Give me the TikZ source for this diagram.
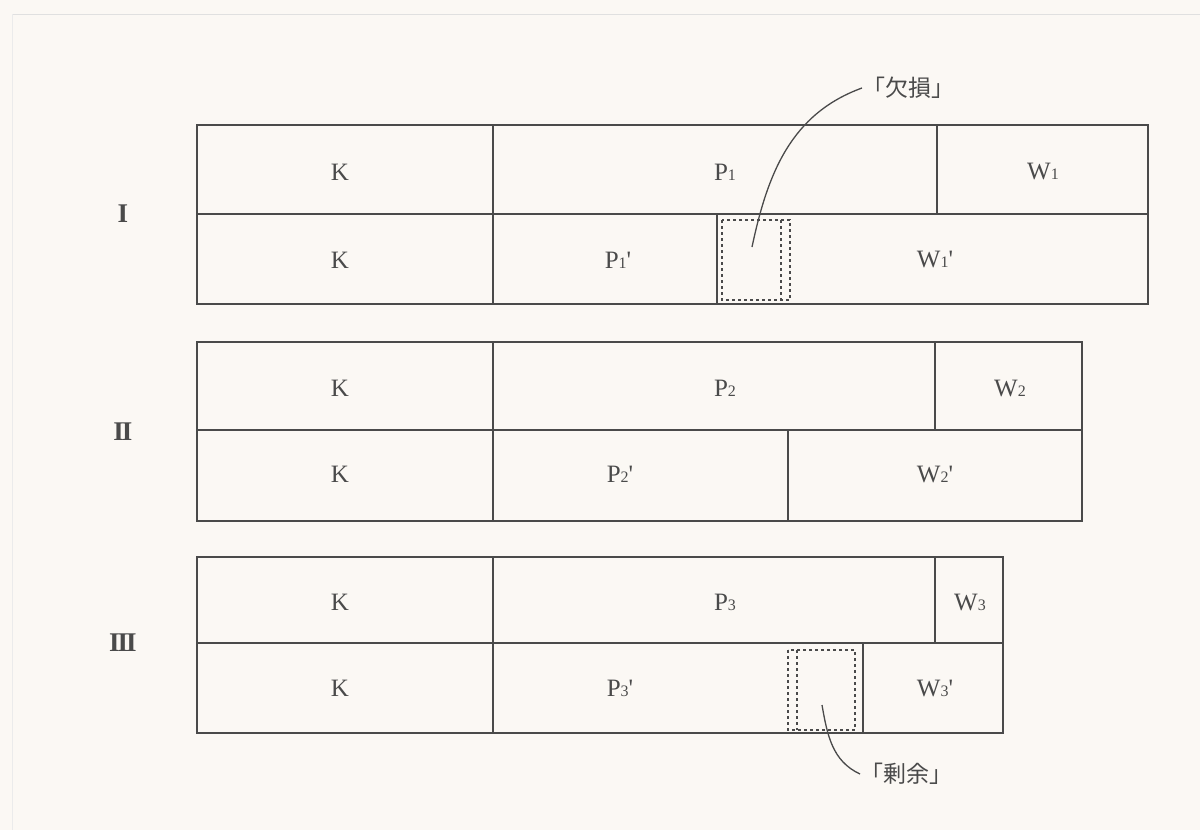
\documentclass[tikz,border=0pt]{standalone}
\usepackage{fontspec}
\setmainfont{Liberation Serif}
\newfontfamily\jpfont{Noto Sans CJK JP}
\definecolor{paper}{HTML}{FBF8F4}
\definecolor{ink}{HTML}{4A4A4A}
\begin{document}
\begin{tikzpicture}[x=1pt,y=-1pt,
  box/.style={draw=ink,line width=1.8pt},
  sep/.style={draw=ink,line width=1.8pt},
  lbl/.style={text=ink,font=\fontsize{25}{25}\selectfont,inner sep=0pt},
  roman/.style={text=ink,font=\fontsize{27}{27}\selectfont\bfseries,inner sep=0pt},
  jp/.style={text=ink,font=\fontsize{23}{23}\selectfont\jpfont,inner sep=0pt},
  dsh/.style={draw=ink,line width=1.5pt,dash pattern=on 3pt off 3pt},
  lead/.style={draw=ink,line width=1.3pt}]
\fill[paper] (0,0) rectangle (1200,830);
\useasboundingbox (0,0) rectangle (1200,830);
\draw[black!12,line width=1pt] (12,14) -- (1200,14);
\draw[black!8,line width=1pt] (12,14) -- (12,830);
\newcommand{\sub}[1]{{\fontsize{16}{16}\selectfont #1}}
\newcommand{\prm}{\textquotesingle}
% ---------- Group I ----------
\draw[box] (197,125) rectangle (1148,304);
\draw[sep] (197,214) -- (1148,214);
\draw[sep] (493,125) -- (493,304);
\draw[sep] (937,125) -- (937,214);
\draw[sep] (717,214) -- (717,304);
\draw[dsh] (722,220) rectangle (790,300);
\draw[dsh] (781,220) -- (781,300);
\coordinate (lossin) at (752,247);
\node[lbl] (k1a) at (340,172) {K};
\node[lbl] (p1) at (725,172) {P\sub{1}};
\node[lbl] (w1) at (1043,172) {W\sub{1}};
\node[lbl] (k1b) at (340,260) {K};
\node[lbl] (p1b) at (618,260) {P\sub{1}\prm};
\node[lbl] (w1b) at (935,260) {W\sub{1}\prm};
\node[roman] (r1) at (123,214) {I};
% ---------- Group II ----------
\draw[box] (197,342) rectangle (1082,521);
\draw[sep] (197,430) -- (1082,430);
\draw[sep] (493,342) -- (493,521);
\draw[sep] (935,342) -- (935,430);
\draw[sep] (788,430) -- (788,521);
\node[lbl] (k2a) at (340,388) {K};
\node[lbl] (p2) at (725,388) {P\sub{2}};
\node[lbl] (w2) at (1010,388) {W\sub{2}};
\node[lbl] (k2b) at (340,474) {K};
\node[lbl] (p2b) at (620,474) {P\sub{2}\prm};
\node[lbl] (w2b) at (935,474) {W\sub{2}\prm};
\node[roman] (r2) at (123,432) {I\kern-2pt I};
% ---------- Group III ----------
\draw[box] (197,557) rectangle (1003,733);
\draw[sep] (197,643) -- (1003,643);
\draw[sep] (493,557) -- (493,733);
\draw[sep] (935,557) -- (935,643);
\draw[sep] (863,643) -- (863,733);
\draw[dsh] (788,650) rectangle (855,730);
\draw[dsh] (797,650) -- (797,730);
\coordinate (surpin) at (822,705);
\node[lbl] (k3a) at (340,602) {K};
\node[lbl] (p3) at (725,602) {P\sub{3}};
\node[lbl] (w3) at (970,602) {W\sub{3}};
\node[lbl] (k3b) at (340,688) {K};
\node[lbl] (p3b) at (620,688) {P\sub{3}\prm};
\node[lbl] (w3b) at (935,688) {W\sub{3}\prm};
\node[roman] (r3) at (123,643) {I\kern-2pt I\kern-2pt I};
% ---------- call-outs ----------
\node[jp,anchor=west] (loss) at (862,88) {「欠損」};
\node[jp,anchor=west] (surp) at (860,774) {「剰余」};
\draw[lead] (loss.west) to[out=200,in=78] (lossin);
\draw[lead] (surpin) to[out=-80,in=155] (surp.west);
\end{tikzpicture}
\end{document}
